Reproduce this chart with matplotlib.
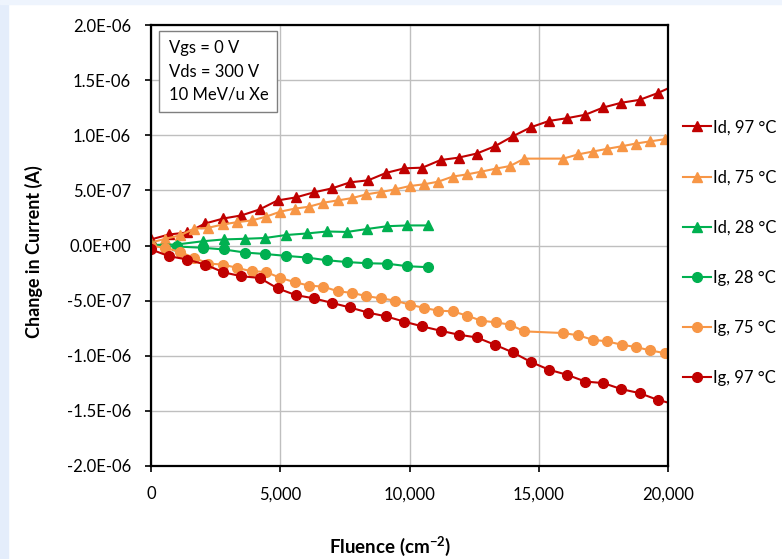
"""
Change in drain / gate current vs. fluence for three temperatures.
python plot.py  ->  out.png
"""

import matplotlib
matplotlib.use("Agg")
import matplotlib.pyplot as plt
from matplotlib.patches import Rectangle
from matplotlib.ticker import FuncFormatter, MultipleLocator

plt.rcParams["font.family"] = ["Lato", "DejaVu Sans"]
plt.rcParams["mathtext.default"] = "regular"

# fluence (cm^-2) for each temperature run
FLUENCE_97 = [0, 700, 1400, 2100, 2800, 3500, 4200, 4900, 5600, 6300,
              7000, 7700, 8400, 9100, 9800, 10500, 11200, 11900, 12600, 13300,
              14000, 14700, 15400, 16100, 16800, 17500, 18200, 18900, 19600, 20300]
FLUENCE_75 = [0, 556, 1111, 1667, 2222, 2778, 3333, 3889, 4444, 5000,
              5556, 6111, 6667, 7222, 7778, 8333, 8889, 9444, 10000, 10556,
              11111, 11667, 12222, 12778, 13333, 13889, 14444,
              15950, 16530, 17090, 17650, 18210, 18760, 19320, 19870]
FLUENCE_28 = [0, 990, 2020, 2820, 3640, 4410, 5220, 6020, 6810, 7580,
              8370, 9140, 9920, 10730]

# change in current, in units of 1e-7 A
ID_97 = [0.55, 1.00, 1.18, 2.00, 2.45, 2.73, 3.27, 4.09, 4.36, 4.82,
         5.18, 5.73, 5.91, 6.59, 7.00, 7.06, 7.75, 7.97, 8.34, 9.00,
         9.91, 10.73, 11.30, 11.55, 11.86, 12.52, 12.95, 13.21, 13.82, 14.57]
IG_97 = [-0.36, -0.97, -1.27, -1.73, -2.43, -2.79, -2.94, -3.89, -4.50, -4.79,
         -5.21, -5.62, -6.09, -6.43, -6.91, -7.34, -7.73, -8.09, -8.34, -9.00,
         -9.70, -10.57, -11.27, -11.73, -12.34, -12.48, -13.03, -13.39, -14.00, -14.43]
ID_75 = [0.27, 0.61, 0.91, 1.52, 1.61, 1.91, 2.12, 2.27, 2.61, 3.07,
         3.34, 3.52, 3.88, 4.09, 4.30, 4.64, 4.85, 5.09, 5.39, 5.55,
         5.79, 6.25, 6.45, 6.70, 6.97, 7.21, 7.88,
         7.88, 8.27, 8.52, 8.77, 9.00, 9.25, 9.45, 9.64]
IG_75 = [-0.03, -0.21, -0.57, -1.12, -1.64, -1.73, -2.03, -2.34, -2.39, -2.94,
         -3.32, -3.64, -3.73, -4.15, -4.30, -4.59, -4.79, -5.00, -5.36, -5.66,
         -5.91, -5.97, -6.36, -6.82, -6.97, -7.18, -7.79,
         -7.94, -8.15, -8.55, -8.70, -9.00, -9.21, -9.52, -9.76]
ID_28 = [0.05, 0.09, 0.39, 0.55, 0.61, 0.68, 0.95, 1.09, 1.27, 1.23,
         1.50, 1.75, 1.82, 1.82]
IG_28 = [-0.03, -0.09, -0.21, -0.36, -0.64, -0.77, -0.94, -1.09, -1.34, -1.50,
         -1.61, -1.65, -1.88, -1.97]

UNIT = 1e-7

RED = "#C00000"
ORANGE = "#F79646"
GREEN = "#00B050"

SERIES = [
    ("Id, 97 °C", FLUENCE_97, ID_97, RED, "^"),
    ("Id, 75 °C", FLUENCE_75, ID_75, ORANGE, "^"),
    ("Id, 28 °C", FLUENCE_28, ID_28, GREEN, "^"),
    ("Ig, 28 °C", FLUENCE_28, IG_28, GREEN, "o"),
    ("Ig, 75 °C", FLUENCE_75, IG_75, ORANGE, "o"),
    ("Ig, 97 °C", FLUENCE_97, IG_97, RED, "o"),
]


def sci_label(v, _pos):
    if abs(v) < 1e-12:
        return "0.0E+00"
    return f"{v:.1E}"


def main():
    fig = plt.figure(figsize=(7.82, 5.59), dpi=100)
    fig.patch.set_facecolor("white")
    # light blue border of the original screenshot
    fig.patches.append(Rectangle((0, 0), 8 / 782, 1, transform=fig.transFigure,
                                 color="#e4edfb", zorder=0))
    fig.patches.append(Rectangle((0, 1 - 4 / 559), 1, 4 / 559,
                                 transform=fig.transFigure,
                                 color="#eef4fd", zorder=0))

    ax = fig.add_axes([151 / 782, 93 / 559, 517 / 782, 441 / 559])

    for label, x, y, colour, marker in SERIES:
        ax.plot(x, [v * UNIT for v in y], color=colour, marker=marker,
                markersize=7.5 if marker == "^" else 7, linewidth=1.5,
                label=label)

    ax.set_xlim(0, 20000)
    ax.set_ylim(-2e-6, 2e-6)
    ax.xaxis.set_major_locator(MultipleLocator(5000))
    ax.yaxis.set_major_locator(MultipleLocator(5e-7))
    ax.xaxis.set_major_formatter(FuncFormatter(lambda v, p: f"{int(v):,}"))
    ax.yaxis.set_major_formatter(FuncFormatter(sci_label))

    ax.grid(True, color="#BFBFBF", linewidth=1)
    ax.set_axisbelow(True)
    for s in ax.spines.values():
        s.set_color("black")
        s.set_linewidth(1.6)
    ax.tick_params(axis="both", direction="out", length=4.5, width=1.2,
                   labelsize=12, pad=10)

    ax.set_xlabel("Fluence (cm$^{-2}$)", fontsize=13.5, fontweight="bold")
    ax.set_ylabel("Change in Current (A)", fontsize=13, fontweight="bold")
    ax.xaxis.set_label_coords(0.462, -0.155)
    ax.yaxis.set_label_coords(-0.208, 0.485)

    ax.text(0.034, 0.965, "Vgs = 0 V\nVds = 300 V\n10 MeV/u Xe",
            transform=ax.transAxes, fontsize=12, va="top", ha="left",
            linespacing=1.55,
            bbox=dict(boxstyle="square,pad=0.55", facecolor="white",
                      edgecolor="#7F7F7F", linewidth=1))

    fig.legend(loc="center left", bbox_to_anchor=(683 / 782, 0.548),
               frameon=False, fontsize=12, borderpad=0, borderaxespad=0,
               handlelength=1.65, handletextpad=0.15, labelspacing=2.05)

    fig.savefig("out.png", dpi=100)
    plt.close(fig)


if __name__ == "__main__":
    main()
